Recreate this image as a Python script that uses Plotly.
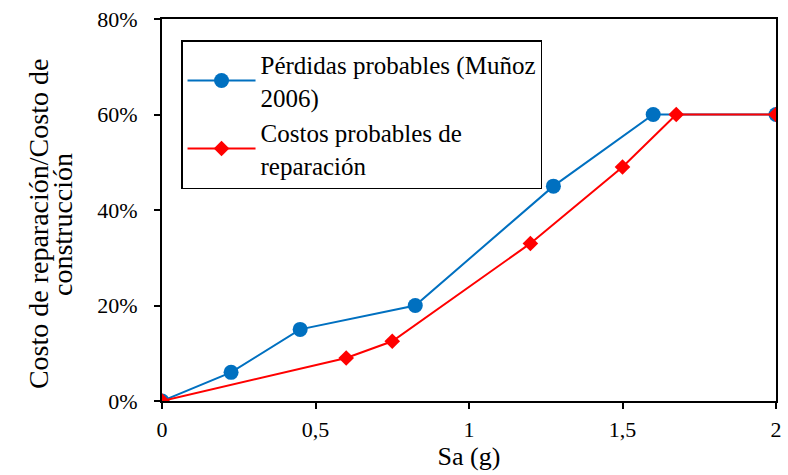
import plotly.graph_objects as go

# Spectral acceleration Sa (g) and repair/construction cost ratio
sa_perdidas = [0.0, 0.225, 0.45, 0.825, 1.275, 1.6, 2.0]
ratio_perdidas = [0.0, 0.06, 0.15, 0.20, 0.45, 0.60, 0.60]

sa_costos = [0.0, 0.6, 0.75, 1.2, 1.5, 1.675, 2.0]
ratio_costos = [0.0, 0.09, 0.125, 0.33, 0.49, 0.60, 0.60]

x_ticks = [0, 0.5, 1, 1.5, 2]
y_ticks = [0, 0.2, 0.4, 0.6, 0.8]

y_title_lines = ["Costo de reparación/Costo de", "construcción"]

SERIF = "Liberation Serif"
INK = "black"
BLUE = "#0070C0"
RED = "#FF0000"

fig = go.Figure()
fig.add_trace(go.Scatter(
    x=sa_perdidas, y=ratio_perdidas, mode="lines+markers",
    name="Pérdidas probables (Muñoz<br>2006)",
    line=dict(color=BLUE, width=2),
    marker=dict(symbol="circle", size=15, color=BLUE),
))
fig.add_trace(go.Scatter(
    x=sa_costos, y=ratio_costos, mode="lines+markers",
    name="Costos probables de<br>reparación",
    line=dict(color=RED, width=2),
    marker=dict(symbol="diamond", size=12, color=RED),
))

# Two-line rotated y-axis title, set line by line for tight spacing
for x_pos, line in zip([-0.202, -0.163], y_title_lines):
    fig.add_annotation(
        x=x_pos, y=0.463, xref="paper", yref="paper",
        xanchor="center", yanchor="middle", textangle=-90,
        showarrow=False, text=line,
        font=dict(family=SERIF, size=28, color=INK),
    )

fig.update_layout(
    width=788, height=475,
    margin=dict(l=162, r=12, t=19, b=74, autoexpand=False),
    paper_bgcolor="white", plot_bgcolor="white",
    font=dict(family=SERIF, size=22, color=INK),
    separators=",.",
    showlegend=True,
    legend=dict(
        x=0.031, y=0.945, xanchor="left", yanchor="top",
        bgcolor="white", bordercolor="black", borderwidth=1.5,
        font=dict(family=SERIF, size=25, color=INK),
        tracegroupgap=0, itemwidth=68,
    ),
    xaxis=dict(
        range=[0, 2], tickvals=x_ticks, showgrid=False, zeroline=False,
        showline=True, linecolor="black", linewidth=2, mirror=True,
        ticks="outside", ticklen=6, tickwidth=1.5, tickcolor="black",
        ticklabelstandoff=2, automargin=False,
        tickfont=dict(family=SERIF, size=22, color=INK),
        title=dict(text="Sa (g)", font=dict(family=SERIF, size=26, color=INK),
                   standoff=4),
    ),
    yaxis=dict(
        range=[0, 0.8], tickvals=y_ticks, tickformat=".0%", showgrid=False,
        zeroline=False, showline=True, linecolor="black", linewidth=2,
        mirror=True, ticks="outside", ticklen=6, tickwidth=1.5,
        tickcolor="black", ticklabelstandoff=12, automargin=False,
        tickfont=dict(family=SERIF, size=22, color=INK),
    ),
)

fig.write_html("out.html")
